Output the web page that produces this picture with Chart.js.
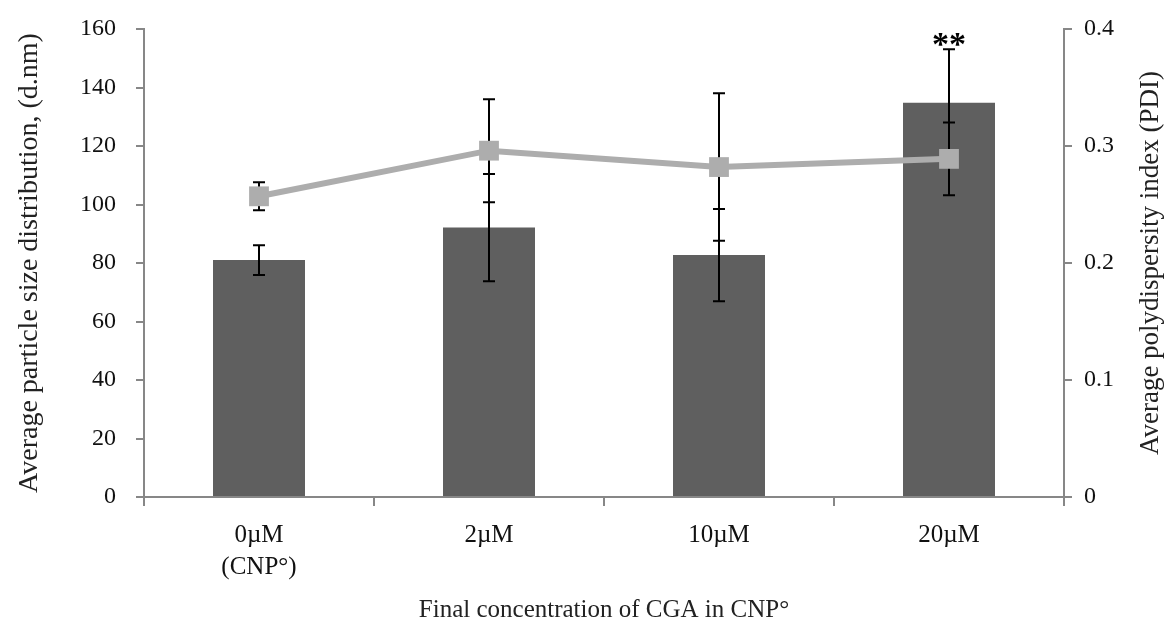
<!DOCTYPE html>
<html>
<head>
<meta charset="utf-8">
<script src="https://cdn.jsdelivr.net/npm/chart.js@4.4.1/dist/chart.umd.min.js"></script>
<style>
  html, body { margin: 0; padding: 0; background: #ffffff; }
  #wrap { width: 1164px; height: 623px; position: relative; }
</style>
</head>
<body>
<div id="wrap"><canvas id="c" width="1164" height="623"></canvas></div>
<script>
// ---- Data ----
const categories = [['0\u00B5M', '(CNP\u00B0)'], '2\u00B5M', '10\u00B5M', '20\u00B5M'];
const sizeValues = [81.0, 92.1, 82.7, 134.8];
const sizeErrors = [5.1, 18.3, 15.8, 18.3];
const pdiValues = [0.257, 0.296, 0.282, 0.289];
const pdiErrors = [0.012, 0.044, 0.063, 0.031];
const significance = ['', '', '', '**'];
const leftTicks = [0, 20, 40, 60, 80, 100, 120, 140, 160];
const rightTicks = [0, 0.1, 0.2, 0.3, 0.4];

const FONT = 'Liberation Serif';
const axisColor = '#878787';

const errorBarPlugin = {
  id: 'errorBars',
  afterDatasetDraw(chart, args) {
    if (args.index !== 0) return;
    const ctx = chart.ctx;
    const x = chart.scales.x, y = chart.scales.y, y1 = chart.scales.y1;
    ctx.save();
    ctx.strokeStyle = '#000';
    ctx.lineWidth = 2;
    const cap = 6;
    function bar(px, lo, hi) {
      ctx.beginPath();
      ctx.moveTo(px, lo); ctx.lineTo(px, hi);
      ctx.moveTo(px - cap, lo); ctx.lineTo(px + cap, lo);
      ctx.moveTo(px - cap, hi); ctx.lineTo(px + cap, hi);
      ctx.stroke();
    }
    sizeValues.forEach((v, i) => {
      const px = x.getPixelForValue(i);
      bar(px, y.getPixelForValue(v - sizeErrors[i]), y.getPixelForValue(v + sizeErrors[i]));
    });
    pdiValues.forEach((v, i) => {
      const px = x.getPixelForValue(i);
      bar(px, y1.getPixelForValue(v - pdiErrors[i]), y1.getPixelForValue(v + pdiErrors[i]));
    });
    ctx.restore();
  },
  afterDraw(chart) {
    const ctx = chart.ctx;
    const x = chart.scales.x, y = chart.scales.y, y1 = chart.scales.y1;
    ctx.save();
    // significance markers
    ctx.fillStyle = '#000';
    ctx.font = 'bold 34px ' + FONT;
    ctx.textAlign = 'center';
    ctx.textBaseline = 'alphabetic';
    significance.forEach((s, i) => {
      if (!s) return;
      const top = Math.min(y.getPixelForValue(sizeValues[i] + sizeErrors[i]), y1.getPixelForValue(pdiValues[i] + pdiErrors[i]));
      ctx.fillText(s, x.getPixelForValue(i), top + 6);
    });
    // right axis title (reads bottom to top)
    ctx.fillStyle = '#222';
    ctx.font = '27px ' + FONT;
    ctx.textBaseline = 'middle';
    ctx.translate(1151, (chart.chartArea.top + chart.chartArea.bottom) / 2);
    ctx.rotate(-Math.PI / 2);
    ctx.fillText('Average polydispersity index (PDI)', 0, 0);
    ctx.restore();
  }
};

function noPad(s) { s.paddingTop = 0; s.paddingBottom = 0; }

new Chart(document.getElementById('c'), {
  data: {
    labels: categories,
    datasets: [
      {
        type: 'bar',
        label: 'Particle size',
        data: sizeValues,
        yAxisID: 'y',
        backgroundColor: '#5f5f5f',
        barPercentage: 0.4,
        categoryPercentage: 1.0,
        order: 1
      },
      {
        type: 'line',
        label: 'PDI',
        data: pdiValues,
        yAxisID: 'y1',
        borderColor: '#adadad',
        backgroundColor: '#adadad',
        borderWidth: 6,
        pointStyle: 'rect',
        pointRadius: 14,
        pointHoverRadius: 14,
        pointBackgroundColor: '#adadad',
        pointBorderWidth: 0,
        tension: 0,
        order: 0
      }
    ]
  },
  options: {
    responsive: false,
    animation: false,
    events: [],
    layout: { padding: { top: 29, left: 0, right: 0, bottom: 0 } },
    plugins: { legend: { display: false }, tooltip: { enabled: false } },
    scales: {
      x: {
        type: 'category',
        offset: true,
        grid: { offset: true, drawOnChartArea: false, drawTicks: true, tickLength: 9, color: axisColor, lineWidth: 2 },
        border: { display: true, color: axisColor, width: 2 },
        ticks: { color: '#111', font: { family: FONT, size: 25, lineHeight: 1.28 }, padding: 13, maxRotation: 0, autoSkip: false },
        title: { display: true, text: 'Final concentration of CGA in CNP\u00B0', color: '#222', font: { family: FONT, size: 25, lineHeight: 1 }, padding: { top: 0, bottom: 0 } },
        afterFit(s) { s.height = 126; s.paddingLeft = 0; s.paddingRight = 0; }
      },
      y: {
        position: 'left',
        min: 0, max: 160,
        afterBuildTicks(s) { s.ticks = leftTicks.map(v => ({ value: v })); },
        grid: { drawOnChartArea: false, drawTicks: true, tickLength: 8, color: axisColor, lineWidth: 2 },
        border: { display: true, color: axisColor, width: 2 },
        ticks: { color: '#111', font: { family: FONT, size: 24 }, padding: 20 },
        title: { display: true, text: 'Average particle size distribution, (d.nm)', color: '#222', font: { family: FONT, size: 28, lineHeight: 1 }, padding: { top: 16, bottom: 0 } },
        afterFit(s) { s.width = 144; noPad(s); }
      },
      y1: {
        position: 'right',
        min: 0, max: 0.4,
        afterBuildTicks(s) { s.ticks = rightTicks.map(v => ({ value: v })); },
        grid: { drawOnChartArea: false, drawTicks: true, tickLength: 8, color: axisColor, lineWidth: 2 },
        border: { display: true, color: axisColor, width: 2 },
        ticks: { color: '#111', font: { family: FONT, size: 24 }, padding: 12, callback: v => String(Math.round(v * 10) / 10) },
        title: { display: false },
        afterFit(s) { s.width = 100; noPad(s); }
      }
    }
  },
  plugins: [errorBarPlugin]
});
</script>
</body>
</html>
